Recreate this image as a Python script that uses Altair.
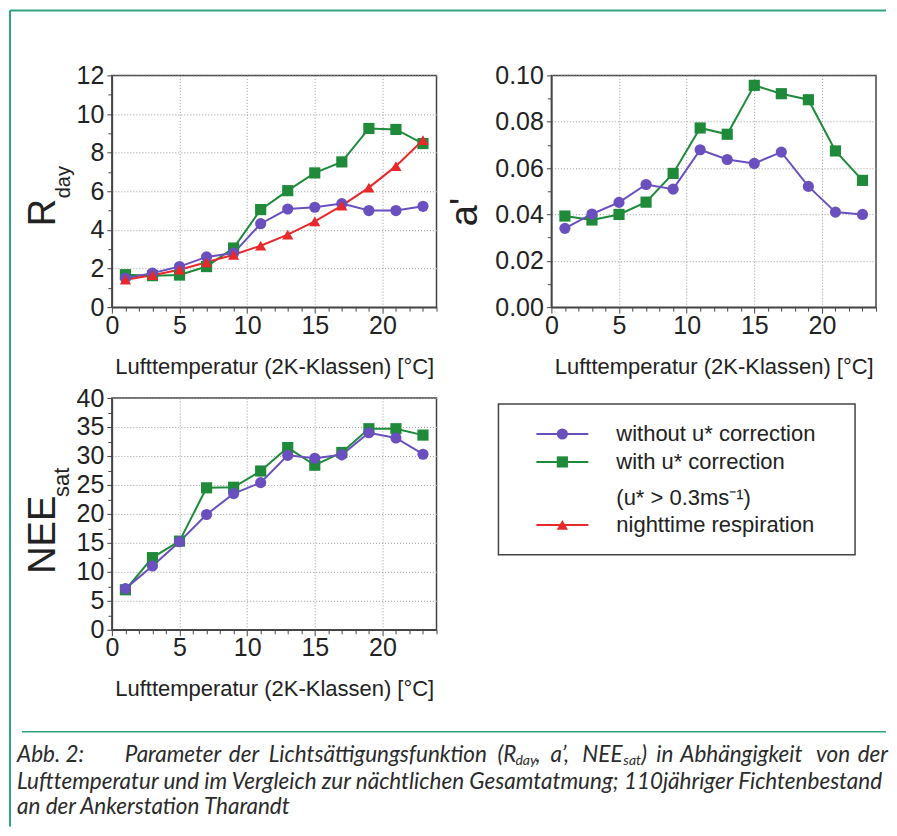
import altair as alt
import pandas as pd

# ---------------- data ----------------
temps = [1, 3, 5, 7, 9, 11, 13, 15, 17, 19, 21, 23]

rday_without = [1.50, 1.76, 2.10, 2.60, 2.80, 4.32, 5.08, 5.17, 5.36, 5.00, 5.00, 5.22]
rday_with = [1.68, 1.63, 1.66, 2.10, 3.06, 5.05, 6.03, 6.95, 7.52, 9.25, 9.20, 8.47]
rday_night = [1.42, 1.65, 1.94, 2.32, 2.71, 3.18, 3.75, 4.44, 5.26, 6.19, 7.30, 8.65]

a_without = [0.0340, 0.0402, 0.0452, 0.0529, 0.0509, 0.0679, 0.0637, 0.0620, 0.0669, 0.0521, 0.0410, 0.0400]
a_with = [0.0393, 0.0376, 0.0400, 0.0453, 0.0577, 0.0773, 0.0746, 0.0957, 0.0921, 0.0895, 0.0674, 0.0547]

nee_without = [7.1, 11.0, 15.2, 19.9, 23.5, 25.4, 30.1, 29.6, 30.2, 34.0, 33.1, 30.3]
nee_with = [6.9, 12.45, 15.3, 24.5, 24.6, 27.4, 31.45, 28.4, 30.6, 34.7, 34.7, 33.6]

series_names = ["without u* correction", "with u* correction", "nighttime respiration"]
series_colors = ["#6a50bf", "#1e8a3a", "#e8282a"]
series_shapes = ["circle", "square", "triangle-up"]
legend_extra = "(u* > 0.3ms\u207b\u00b9)"

x_ticks = list(range(0, 25))
rday_ticks = list(range(0, 13))
a_ticks = [i / 100 for i in range(0, 11)]
nee_ticks = [i * 2.5 for i in range(0, 17)]
x_title = "Lufttemperatur (2K-Klassen) [°C]"

# words of the justified first caption line (text, is_subscript)
cap_line1 = [
    ("Abb. 2:", False), ("Parameter", False), ("der", False), ("Lichtsättigungsfunktion", False),
    ("(R", False), ("day", True), (",", False), ("a’,", False), ("NEE", False), ("sat", True),
    (")", False), ("in", False), ("Abhängigkeit", False), ("von", False), ("der", False),
]
cap_l2 = "Lufttemperatur und im Vergleich zur nächtlichen Gesamtatmung; 110jähriger Fichtenbestand"
cap_l3 = "an der Ankerstation Tharandt"

# ---------------- style ----------------
FONT = "Liberation Sans"
CAPFONT = "Lato"
AX = "#444444"
GREEN = "#2ba57a"
TXT = "#222222"
W, H = 325, 232
MSIZE = 125

color_scale = alt.Scale(domain=series_names, range=series_colors)
shape_scale = alt.Scale(domain=series_names, range=series_shapes)
one = pd.DataFrame({"t": [""]})


def x_axis():
    return alt.Axis(
        values=x_ticks, title=x_title,
        labelExpr="datum.value % 5 == 0 ? datum.label : ''",
        labelFont=FONT, labelFontSize=25, labelColor=TXT, labelPadding=0,
        labelOverlap=False, labelFlush=False,
        tickSize={"condition": {"test": "datum.value % 5 == 0", "value": 6}, "value": 4},
        tickColor=AX, tickWidth=1, domainColor=AX, domainWidth=1.5,
        grid=True, gridColor="#9a9a9a", gridDash=[1, 2], gridWidth=1,
        gridOpacity={"condition": {"test": "datum.value % 5 == 0", "value": 1}, "value": 0},
        titleFont=FONT, titleFontSize=22, titleColor=TXT, titleFontWeight="normal",
        titleBaseline="alphabetic", titleY=66)


def y_axis(ticks, major_test, label_expr):
    return alt.Axis(
        values=ticks, title=None, labelExpr=label_expr,
        labelFont=FONT, labelFontSize=25, labelColor=TXT, labelPadding=3,
        labelOverlap=False, labelFlush=False,
        tickSize={"condition": {"test": major_test, "value": 5}, "value": 4},
        tickColor=AX, tickWidth=1, domainColor=AX, domainWidth=1.5,
        grid=True, gridColor="#9a9a9a", gridDash=[1, 2], gridWidth=1,
        gridOpacity={"condition": {"test": major_test, "value": 1}, "value": 0})


def text_layer(txt, x, y, size, align="left", angle=0, font=FONT, style="normal",
               baseline="alphabetic", color=TXT):
    return alt.Chart(pd.DataFrame({"t": [txt]})).mark_text(
        font=font, fontSize=size, align=align, angle=angle, fontStyle=style,
        baseline=baseline, color=color
    ).encode(text="t:N", x=alt.value(x), y=alt.value(y))


def panel(order, ticks, ymax, major_test, label_expr):
    frames = [pd.DataFrame({"T": temps, "v": vals, "series": name}) for name, vals in order]
    df = pd.concat(frames, ignore_index=True)
    df["o"] = range(len(df))
    base = alt.Chart(df).encode(
        x=alt.X("T:Q", scale=alt.Scale(domain=[0, 24], nice=False, zero=False), axis=x_axis()),
        y=alt.Y("v:Q", scale=alt.Scale(domain=[0, ymax], nice=False, zero=True),
                axis=y_axis(ticks, major_test, label_expr)),
        color=alt.Color("series:N", scale=color_scale, legend=None),
    )
    lines = base.mark_line(strokeWidth=2).encode(order="o:Q")
    pts = base.mark_point(filled=True, size=MSIZE, opacity=1, strokeWidth=0).encode(
        shape=alt.Shape("series:N", scale=shape_scale, legend=None), order="o:Q")
    return [lines, pts]


# ---- panel 1: R_day ----
p1_layers = panel(
    [(series_names[1], rday_with), (series_names[0], rday_without), (series_names[2], rday_night)],
    rday_ticks, 12, "datum.value % 2 == 0", "datum.value % 2 == 0 ? datum.label : ''")
frame_left = alt.Chart(one).mark_rule(color=GREEN, strokeWidth=2).encode(
    x=alt.value(-102), y=alt.value(-65), y2=alt.value(752))
frame_top = alt.Chart(one).mark_rule(color=GREEN, strokeWidth=2).encode(
    x=alt.value(-102), x2=alt.value(775), y=alt.value(-65))
p1 = alt.layer(
    frame_left, frame_top, *p1_layers,
    text_layer("R", -57, 151, 38, angle=270),
    text_layer("day", -42, 123, 20, angle=270),
).properties(width=W, height=H)

# ---- panel 2: a' ----
p2_layers = panel(
    [(series_names[1], a_with), (series_names[0], a_without)],
    a_ticks, 0.10, "round(datum.value * 100) % 2 == 0",
    "round(datum.value * 100) % 2 == 0 ? format(datum.value, '.2f') : ''")
p2 = alt.layer(
    *p2_layers,
    text_layer("a'", -74, 151, 38, angle=270),
).properties(width=W, height=H)

# ---- panel 3: NEE_sat (+ caption below) ----
p3_layers = panel(
    [(series_names[1], nee_with), (series_names[0], nee_without)],
    nee_ticks, 40, "datum.value % 5 == 0", "datum.value % 5 == 0 ? datum.label : ''")
separator = alt.Chart(one).mark_rule(color=GREEN, strokeWidth=1.5).encode(
    x=alt.value(-90), x2=alt.value(775), y=alt.value(334))
cap_kw = dict(font=CAPFONT, style="italic", baseline="middle", color="#2b2b2b")
CAPSIZE = 22.5
# horizontal anchors of the justified first line (relative to the panel)
line1_x = [-95, 13, 117, 157, 386, 404, 424, 439, 471, 512, 530, 545, 569, 705, 777]
cap_layers = []
for (txt, sub), xx in zip(cap_line1, line1_x):
    align = "right" if xx == line1_x[-1] else "left"
    if sub:
        cap_layers.append(text_layer(txt, xx, 363, 14, align=align, **cap_kw))
    else:
        cap_layers.append(text_layer(txt, xx, 357, CAPSIZE, align=align, **cap_kw))
p3 = alt.layer(
    *p3_layers,
    text_layer("NEE", -57, 176, 38, angle=270),
    text_layer("sat", -43, 99, 22, angle=270),
    separator,
    *cap_layers,
    text_layer(cap_l2, -95, 384, CAPSIZE, **cap_kw),
    text_layer(cap_l3, -95, 409, CAPSIZE, **cap_kw),
).properties(width=W, height=H)

# ---- legend panel ----
box = alt.Chart(one).mark_rect(fill="white", stroke=AX, strokeWidth=1.5).encode(
    x=alt.value(-53), x2=alt.value(304), y=alt.value(6), y2=alt.value(157))
legend_y = [36, 64, 127]
leg_layers = [box]
for name, ly in zip(series_names, legend_y):
    d = pd.DataFrame({"series": [name]})
    col = alt.Color("series:N", scale=color_scale, legend=None)
    leg_layers.append(alt.Chart(d).mark_rule(strokeWidth=2).encode(
        x=alt.value(-15), x2=alt.value(37), y=alt.value(ly), color=col))
    leg_layers.append(alt.Chart(d).mark_point(filled=True, size=MSIZE, opacity=1, strokeWidth=0).encode(
        x=alt.value(11), y=alt.value(ly), color=col,
        shape=alt.Shape("series:N", scale=shape_scale, legend=None)))
    leg_layers.append(text_layer(name, 65, ly, 22, baseline="middle"))
leg_layers.append(text_layer(legend_extra, 65, 100, 22, baseline="middle"))
p4 = alt.layer(*leg_layers).properties(
    width=W, height=H, view=alt.ViewBackground(stroke="transparent"))

chart = alt.concat(
    p1, p2, p3, p4, columns=2, spacing={"row": 91, "column": 115}, bounds="flush"
).properties(padding=0, background="white").configure_view(
    stroke=AX, strokeWidth=1.5
)

chart.save("out.html", embed_options={"renderer": "svg", "actions": False})
